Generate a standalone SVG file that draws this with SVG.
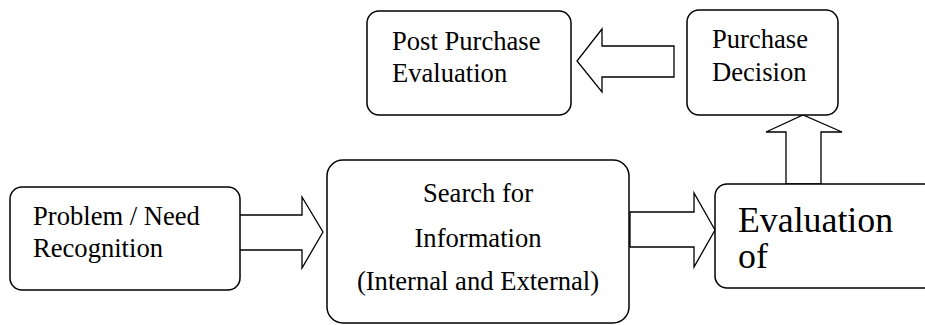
<svg xmlns="http://www.w3.org/2000/svg" width="925" height="325" viewBox="0 0 925 325">
<style>
.box{fill:#fff;stroke:#000;stroke-width:1.5}
.arr{fill:#fff;stroke:#000;stroke-width:1.3;stroke-linejoin:miter}
text{font-family:"Liberation Serif","Times New Roman",serif;fill:#000;font-size:26.6px}
.big{font-size:35.8px}
</style>
<rect width="925" height="325" fill="#fff"/>
<g id="connectors">
<polygon class="arr" points="238,215 302,215 302,197 323,232 302,268 302,250 238,250"/>
<polygon class="arr" points="630,212 694,212 694,193 715,230 694,267 694,247 630,247"/>
<polygon class="arr" points="786,184 786,132 766,132 803,115 842,132 821,132 821,184"/>
<polygon class="arr" points="674,46 602,46 602,29 577,61 602,92 602,77 674,77"/>
</g>
<g id="problem">
<rect class="box" x="10" y="187" width="230" height="103" rx="12"/>
<text x="33" y="225">Problem / Need</text>
<text x="33" y="257">Recognition</text>
</g>
<g id="search">
<rect class="box" x="327" y="160" width="302" height="163" rx="16"/>
<text x="478" y="202" text-anchor="middle">Search for</text>
<text x="478" y="247" text-anchor="middle">Information</text>
<text x="478" y="290" text-anchor="middle">(Internal and External)</text>
</g>
<g id="evaluation">
<rect class="box" x="715" y="184" width="240" height="104" rx="12"/>
<text class="big" x="738" y="232">Evaluation</text>
<text class="big" x="738" y="268">of</text>
</g>
<g id="decision">
<rect class="box" x="687" y="10" width="151" height="105" rx="12"/>
<text x="712" y="48">Purchase</text>
<text x="712" y="81">Decision</text>
</g>
<g id="post">
<rect class="box" x="367" y="11" width="204" height="104" rx="12"/>
<text x="392" y="50">Post Purchase</text>
<text x="392" y="82">Evaluation</text>
</g>
</svg>
